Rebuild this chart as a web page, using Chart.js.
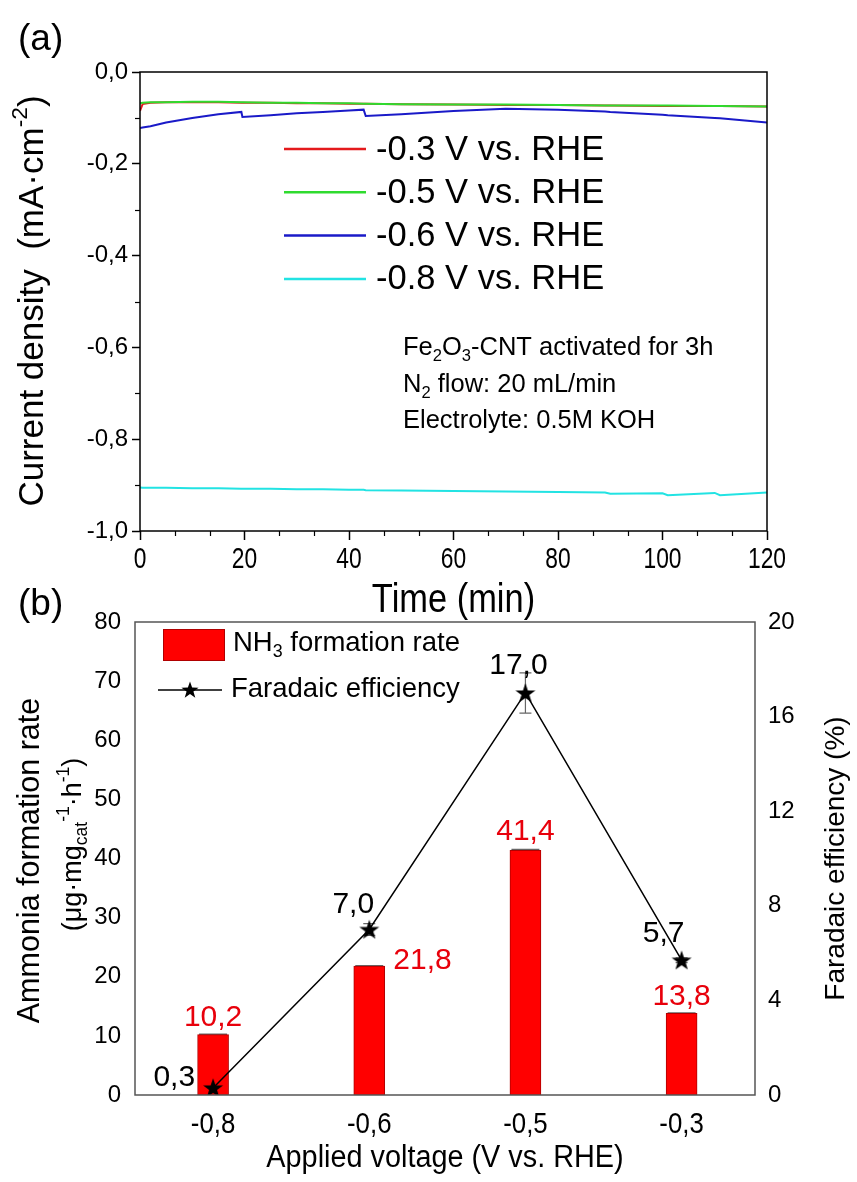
<!DOCTYPE html>
<html>
<head>
<meta charset="utf-8">
<script src="https://cdn.jsdelivr.net/npm/chart.js@4.4.1/dist/chart.umd.min.js"></script>
<style>
  body { margin: 0; background: #fff; }
  #wrap { position: relative; width: 857px; height: 1182px; overflow: hidden; background: #fff; }
  canvas { position: absolute; left: 0; }
</style>
</head>
<body>
<div id="wrap">
  <canvas id="chartA" width="857" height="625" style="top:0"></canvas>
  <canvas id="chartB" width="857" height="607" style="top:575px"></canvas>
</div>
<script>
// ---- panel (a): chronoamperometry ----
const timeMin = [0, 0.5, 2, 5, 10, 15, 19.4, 19.6, 25, 30, 35, 40, 42.8, 43.2, 50, 60, 70, 80, 89, 90, 100, 101, 110, 111, 120];
const curMinus03 = [-0.085, -0.070, -0.067, -0.066, -0.066, -0.066, -0.067, -0.067, -0.067, -0.068, -0.068, -0.069, -0.069, -0.069, -0.070, -0.071, -0.072, -0.072, -0.073, -0.073, -0.074, -0.074, -0.074, -0.074, -0.075];
const curMinus05 = [-0.068, -0.067, -0.066, -0.066, -0.065, -0.065, -0.066, -0.066, -0.067, -0.067, -0.068, -0.068, -0.069, -0.069, -0.070, -0.071, -0.071, -0.072, -0.073, -0.073, -0.073, -0.073, -0.074, -0.074, -0.075];
const curMinus06 = [-0.122, -0.121, -0.118, -0.110, -0.100, -0.092, -0.087, -0.098, -0.094, -0.090, -0.087, -0.084, -0.082, -0.096, -0.092, -0.085, -0.080, -0.082, -0.086, -0.087, -0.093, -0.094, -0.100, -0.101, -0.110];
const curMinus08 = [-0.905, -0.906, -0.906, -0.906, -0.907, -0.907, -0.908, -0.908, -0.908, -0.909, -0.909, -0.910, -0.910, -0.911, -0.912, -0.913, -0.914, -0.915, -0.916, -0.919, -0.918, -0.922, -0.917, -0.922, -0.916];
const seriesNames = ['-0.3 V vs. RHE', '-0.5 V vs. RHE', '-0.6 V vs. RHE', '-0.8 V vs. RHE'];
const timeTicks = [0, 20, 40, 60, 80, 100, 120];

// ---- panel (b): NH3 yield and FE ----
const voltageLabels = ['-0,8', '-0,6', '-0,5', '-0,3'];
const nh3Rate = [10.2, 21.8, 41.4, 13.8];
const nh3Err = [0.1, 0.1, 0.15, 0.1];
const faradaicEff = [0.3, 7.0, 17.0, 5.7];
const faradaicErr = [0.15, 0.25, 0.85, 0.1];

const SANS = '"Liberation Sans", Arial, sans-serif';
Chart.defaults.font.family = SANS;
Chart.defaults.color = '#000';

const lineColors = ['#e41a1c', '#2fdb2f', '#1a1ac8', '#22e3e3'];
const drawOrder = [2, 1, 3, 4];

function commaFmt(v, d) {
  if (Math.abs(v) < 1e-9) v = 0;
  return v.toFixed(d).replace('.', ',');
}

// text with sub/superscripts: parts = [[text, ''|'sub'|'sup'], ...]; k = horizontal squeeze
function drawRich(ctx, parts, x, y, size, align, color, k) {
  k = k || 1;
  ctx.save();
  ctx.translate(x, y);
  ctx.scale(k, 1);
  ctx.fillStyle = color || '#000';
  ctx.textBaseline = 'middle';
  ctx.textAlign = 'left';
  const seg = parts.map(([t, m]) => {
    const s = m ? size * 0.65 : size;
    ctx.font = s + 'px ' + SANS;
    return { t, m, s, w: ctx.measureText(t).width };
  });
  const total = seg.reduce((a, p) => a + p.w, 0);
  let cx = align === 'center' ? -total / 2 : align === 'right' ? -total : 0;
  seg.forEach(p => {
    ctx.font = p.s + 'px ' + SANS;
    const dy = p.m === 'sub' ? size * 0.32 : p.m === 'sup' ? -size * 0.36 : 0;
    ctx.fillText(p.t, cx, dy);
    cx += p.w;
  });
  ctx.restore();
}

function drawRotated(ctx, parts, x, y, size) {
  ctx.save();
  ctx.translate(x, y);
  ctx.rotate(-Math.PI / 2);
  drawRich(ctx, parts, 0, 0, size, 'center');
  ctx.restore();
}

function starPath(ctx, cx, cy, ro, ri) {
  ctx.beginPath();
  for (let i = 0; i < 10; i++) {
    const r = i % 2 ? ri : ro;
    const a = -Math.PI / 2 + i * Math.PI / 5;
    ctx.lineTo(cx + r * Math.cos(a), cy + r * Math.sin(a));
  }
  ctx.closePath();
}

const starImg = document.createElement('canvas');
starImg.width = 22;
starImg.height = 22;
(function () {
  const c = starImg.getContext('2d');
  starPath(c, 11, 11.8, 10.5, 4.2);
  c.fillStyle = '#000';
  c.fill();
})();

function minorTicks(ctx, scale, n, len) {
  const t = scale.ticks;
  ctx.save();
  ctx.strokeStyle = '#000';
  ctx.lineWidth = 1.2;
  for (let i = 0; i < t.length - 1; i++) {
    for (let k = 1; k <= n; k++) {
      const v = t[i].value + (t[i + 1].value - t[i].value) * k / (n + 1);
      const p = Math.round(scale.getPixelForValue(v)) + 0.5;
      ctx.beginPath();
      if (scale.isHorizontal()) {
        ctx.moveTo(p, scale.top);
        ctx.lineTo(p, scale.top + len);
      } else {
        ctx.moveTo(scale.right, p);
        ctx.lineTo(scale.right - len, p);
      }
      ctx.stroke();
    }
  }
  ctx.restore();
}

// decorations for panel (a)
const panelA = {
  id: 'panelA',
  afterDraw(chart) {
    const ctx = chart.ctx;
    const ca = chart.chartArea;
    const xs = chart.scales.x;
    ctx.save();
    ctx.strokeStyle = '#000';
    ctx.lineWidth = 1.5;
    ctx.strokeRect(ca.left, ca.top, ca.right - ca.left, ca.bottom - ca.top);
    ctx.restore();
    minorTicks(ctx, xs, 2, 5);
    minorTicks(ctx, chart.scales.y, 1, 5);

    // condensed time tick labels
    timeTicks.forEach(t => {
      drawRich(ctx, [[String(t), '']], xs.getPixelForValue(t), ca.bottom + 29, 30, 'center', '#000', 0.76);
    });

    drawRich(ctx, [['(a)', '']], 18, 40, 37, 'left');
    drawRotated(ctx, [['Current density  (mA\u00b7cm', ''], ['-2', 'sup'], [')', '']], 33, 301, 35);
    drawRich(ctx, [['Time (min)', '']], (ca.left + ca.right) / 2, 601, 41, 'center', '#000', 0.84);

    // legend
    chart.data.datasets.forEach((ds, i) => {
      const y = 149 + i * 43.3;
      ctx.save();
      ctx.strokeStyle = ds.borderColor;
      ctx.lineWidth = 2.5;
      ctx.beginPath();
      ctx.moveTo(284, y);
      ctx.lineTo(366, y);
      ctx.stroke();
      ctx.restore();
      drawRich(ctx, [[ds.label, '']], 376, y + 1, 34.5, 'left');
    });

    // experimental conditions
    drawRich(ctx, [['Fe', ''], ['2', 'sub'], ['O', ''], ['3', 'sub'], ['-CNT activated for 3h', '']], 403, 348, 25.5, 'left');
    drawRich(ctx, [['N', ''], ['2', 'sub'], [' flow: 20 mL/min', '']], 403, 385, 25.5, 'left');
    drawRich(ctx, [['Electrolyte: 0.5M KOH', '']], 403, 421, 25.5, 'left');
  }
};

new Chart(document.getElementById('chartA'), {
  type: 'line',
  data: {
    datasets: [curMinus03, curMinus05, curMinus06, curMinus08].map((vals, i) => ({
      label: seriesNames[i],
      data: timeMin.map((t, j) => ({ x: t, y: vals[j] })),
      borderColor: lineColors[i],
      borderWidth: 2,
      pointRadius: 0,
      tension: 0,
      order: drawOrder[i]
    }))
  },
  options: {
    responsive: false,
    animation: false,
    layout: { padding: { left: 0, top: 72, right: 90, bottom: 0 } },
    plugins: { legend: { display: false }, tooltip: { enabled: false } },
    scales: {
      x: {
        type: 'linear', min: 0, max: 120,
        afterFit: s => { s.height = 94; },
        ticks: { stepSize: 20, color: 'rgba(0,0,0,0)', maxRotation: 0 },
        grid: { drawOnChartArea: false, tickLength: 9, color: '#000', tickWidth: 1.5 },
        border: { display: false }
      },
      y: {
        type: 'linear', min: -1, max: 0,
        afterFit: s => { s.width = 140; },
        ticks: { stepSize: 0.2, callback: v => commaFmt(v, 1), font: { size: 24 }, color: '#000', padding: 4 },
        grid: { drawOnChartArea: false, tickLength: 8, color: '#000', tickWidth: 1.5 },
        border: { display: false }
      }
    }
  },
  plugins: [panelA]
});

// decorations for panel (b)
const rateLabelPos = [[0, -17, 'center'], [24, -5, 'left'], [0, -18, 'center'], [0, -17, 'center']];
const feLabelPos = [[-18, -10, 'right'], [-16, -25, 'center'], [-7, -27, 'center'], [-18, -26, 'center']];

function errBar(ctx, x, yTop, yBot, half) {
  ctx.beginPath();
  ctx.moveTo(x, yTop); ctx.lineTo(x, yBot);
  ctx.moveTo(x - half, yTop); ctx.lineTo(x + half, yTop);
  ctx.moveTo(x - half, yBot); ctx.lineTo(x + half, yBot);
  ctx.stroke();
}

const panelB = {
  id: 'panelB',
  // error bars go under the stars, so draw them before the datasets
  beforeDatasetsDraw(chart) {
    const ctx = chart.ctx;
    const y = chart.scales.y, y1 = chart.scales.y1;
    const bars = chart.getDatasetMeta(1).data;
    const pts = chart.getDatasetMeta(0).data;
    ctx.save();
    ctx.strokeStyle = '#666';
    ctx.lineWidth = 1.2;
    bars.forEach((b, i) => errBar(ctx, b.x, y.getPixelForValue(nh3Rate[i] + nh3Err[i]), y.getPixelForValue(nh3Rate[i] - nh3Err[i]), 14));
    pts.forEach((p, i) => errBar(ctx, p.x, y1.getPixelForValue(faradaicEff[i] + faradaicErr[i]), y1.getPixelForValue(faradaicEff[i] - faradaicErr[i]), 6));
    ctx.restore();
  },
  afterDraw(chart) {
    const ctx = chart.ctx;
    const ca = chart.chartArea;
    const xs = chart.scales.x;
    ctx.save();
    ctx.strokeStyle = '#555';
    ctx.lineWidth = 1.5;
    ctx.strokeRect(ca.left, ca.top, ca.right - ca.left, ca.bottom - ca.top);
    ctx.restore();

    // condensed voltage tick labels
    xs.ticks.forEach(t => {
      drawRich(ctx, [[voltageLabels[t.value], '']], xs.getPixelForValue(t.value), ca.bottom + 30, 30, 'center', '#000', 0.86);
    });

    drawRich(ctx, [['(b)', '']], 18, 30, 37, 'left');
    const midY = (ca.top + ca.bottom) / 2;
    drawRotated(ctx, [['Ammonia formation rate', '']], 31, midY + 2, 30.5);
    drawRotated(ctx, [['(\u03bcg\u00b7mg', ''], ['cat', 'sub'], ['-1', 'sup'], ['\u00b7h', ''], ['-1', 'sup'], [')', '']], 74, midY - 14, 27);
    drawRotated(ctx, [['Faradaic efficiency (%)', '']], 836, midY, 28);
    drawRich(ctx, [['Applied voltage (V vs. RHE)', '']], (ca.left + ca.right) / 2, 1158 - 575, 31, 'center', '#000', 0.93);

    // legend
    ctx.save();
    ctx.fillStyle = '#ff0000';
    ctx.fillRect(163, 54, 61, 31);
    ctx.strokeStyle = '#b00000';
    ctx.lineWidth = 1;
    ctx.strokeRect(163.5, 54.5, 61, 31);
    ctx.strokeStyle = '#000';
    ctx.lineWidth = 1.5;
    ctx.beginPath();
    ctx.moveTo(158, 115); ctx.lineTo(222, 115);
    ctx.stroke();
    starPath(ctx, 190, 115.5, 9, 3.6);
    ctx.fillStyle = '#000';
    ctx.fill();
    ctx.restore();
    drawRich(ctx, [['NH', ''], ['3', 'sub'], [' formation rate', '']], 233, 68, 27.5, 'left');
    drawRich(ctx, [['Faradaic efficiency', '']], 231, 114, 27.5, 'left');

    // value labels
    const bars = chart.getDatasetMeta(1).data;
    bars.forEach((b, i) => {
      const [dx, dy, al] = rateLabelPos[i];
      drawRich(ctx, [[commaFmt(nh3Rate[i], 1), '']], b.x + dx, b.y + dy, 30, al, '#e8000b');
    });
    const pts = chart.getDatasetMeta(0).data;
    pts.forEach((p, i) => {
      const [dx, dy, al] = feLabelPos[i];
      drawRich(ctx, [[commaFmt(faradaicEff[i], 1), '']], p.x + dx, p.y + dy, 30, al, '#000');
    });
  }
};

new Chart(document.getElementById('chartB'), {
  type: 'bar',
  data: {
    datasets: [
      {
        type: 'line', label: 'Faradaic efficiency', yAxisID: 'y1',
        data: faradaicEff.map((v, i) => ({ x: i, y: v })),
        borderColor: '#000', borderWidth: 1.5, pointStyle: starImg, pointRadius: 10,
        tension: 0, order: 0
      },
      {
        type: 'bar', label: 'NH3 formation rate', yAxisID: 'y',
        data: nh3Rate.map((v, i) => ({ x: i, y: v })),
        backgroundColor: '#ff0000', borderColor: '#b00000', borderWidth: 1,
        barThickness: 31, order: 1
      }
    ]
  },
  options: {
    responsive: false,
    animation: false,
    layout: { padding: { left: 0, top: 47, right: 0, bottom: 0 } },
    plugins: { legend: { display: false }, tooltip: { enabled: false } },
    scales: {
      x: {
        type: 'linear', min: -0.5, max: 3.47, offset: false,
        afterBuildTicks: s => { s.ticks = voltageLabels.map((_, i) => ({ value: i })); },
        afterFit: s => { s.height = 87; },
        ticks: { display: false },
        grid: { display: false, drawTicks: false, offset: false },
        border: { display: false }
      },
      y: {
        position: 'left', min: 0, max: 80,
        afterFit: s => { s.width = 135; },
        ticks: { stepSize: 10, font: { size: 24 }, color: '#000', padding: 14 },
        grid: { display: false, drawTicks: false },
        border: { display: false }
      },
      y1: {
        position: 'right', min: 0, max: 20,
        afterFit: s => { s.width = 102; },
        ticks: { stepSize: 4, font: { size: 24 }, color: '#000', padding: 13 },
        grid: { display: false, drawTicks: false },
        border: { display: false }
      }
    }
  },
  plugins: [panelB]
});
</script>
</body>
</html>
